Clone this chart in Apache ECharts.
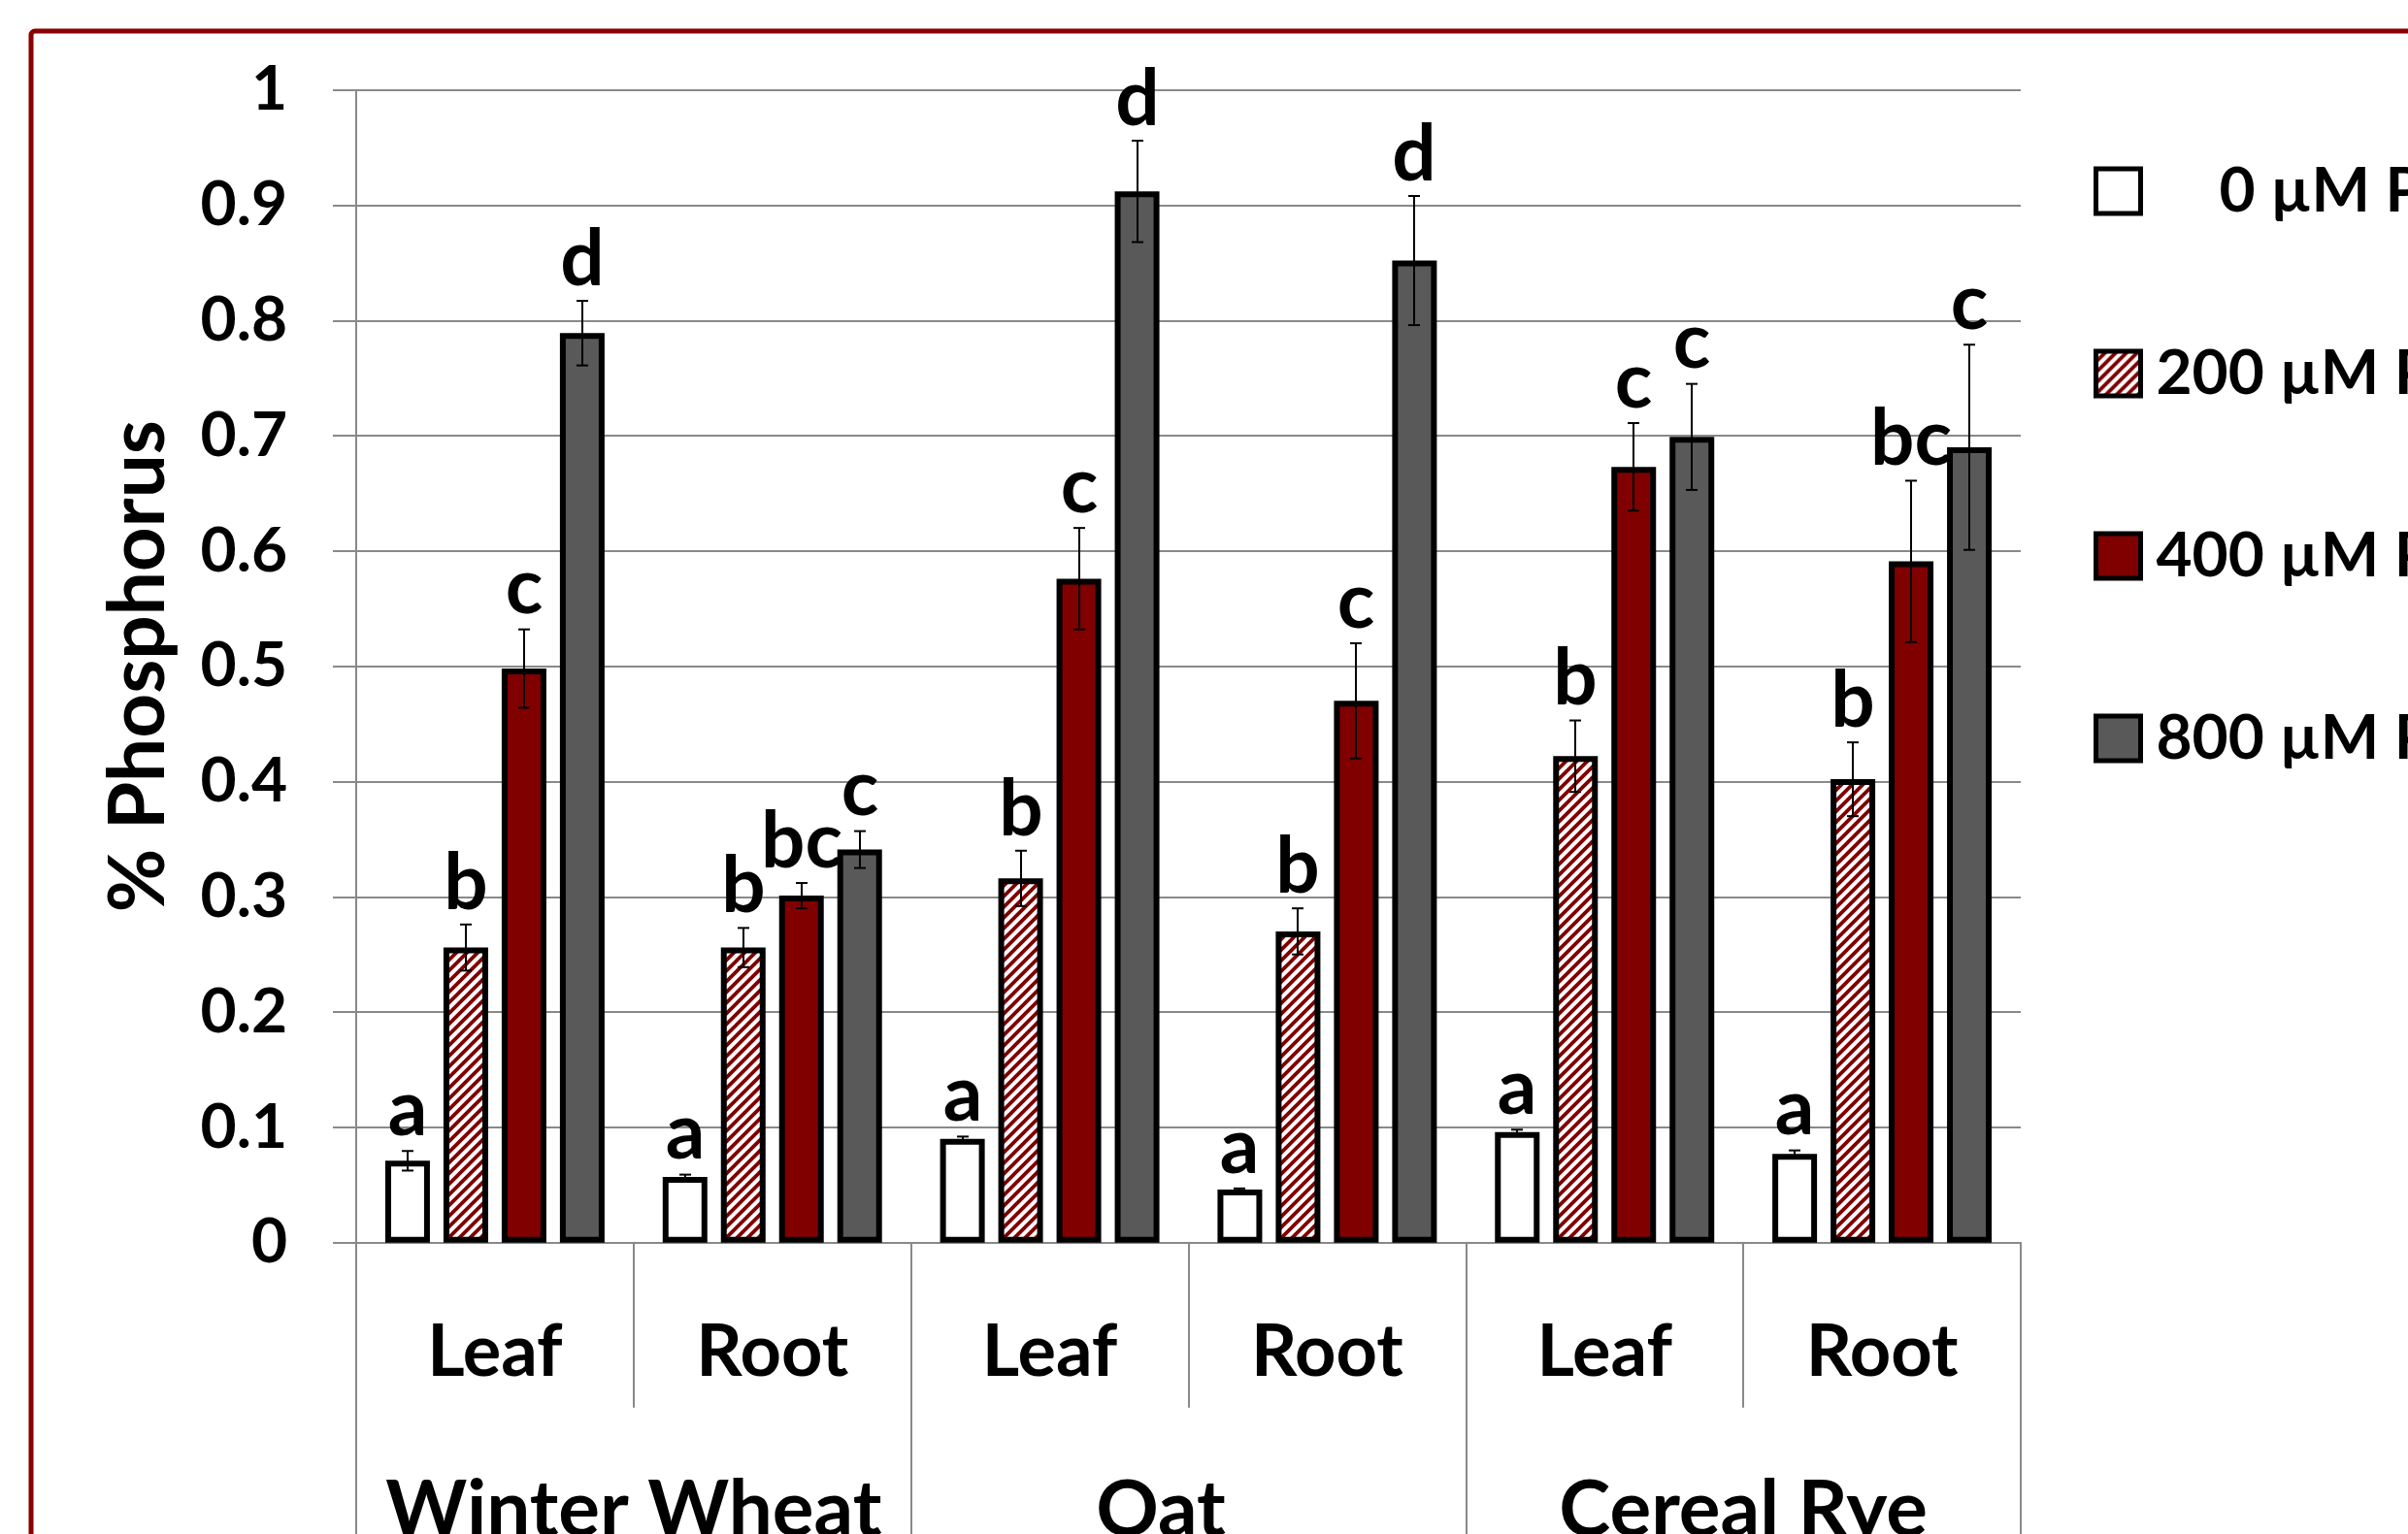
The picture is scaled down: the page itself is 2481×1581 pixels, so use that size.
<!DOCTYPE html>
<html>
<head>
<meta charset="utf-8">
<script src="https://cdn.jsdelivr.net/npm/echarts@6/dist/echarts.min.js"></script>
<style>
  html, body { margin: 0; padding: 0; background: #fff; }
  #chart { width: 2481px; height: 1581px; }
</style>
</head>
<body>
<div id="chart"></div>
<script>
// ---------------- data ----------------
const species = ['Winter Wheat', 'Oat', 'Cereal Rye'];
const tissues = ['Leaf', 'Root', 'Leaf', 'Root', 'Leaf', 'Root'];
const seriesNames = ['0 µM P', '200 µM P', '400 µM P', '800 µM P'];
const yTicks = [0, 0.1, 0.2, 0.3, 0.4, 0.5, 0.6, 0.7, 0.8, 0.9, 1];

const p0   = [0.071, 0.057, 0.090, 0.046, 0.096, 0.077];
const p200 = [0.256, 0.256, 0.316, 0.270, 0.422, 0.402];
const p400 = [0.498, 0.301, 0.576, 0.470, 0.673, 0.591];
const p800 = [0.789, 0.341, 0.912, 0.852, 0.699, 0.690];

const e0   = [0.0085, 0.002, 0.002, 0.001, 0.002, 0.003];
const e200 = [0.020, 0.017, 0.024, 0.020, 0.031, 0.032];
const e400 = [0.034, 0.011, 0.044, 0.050, 0.038, 0.070];
const e800 = [0.028, 0.016, 0.044, 0.056, 0.046, 0.089];

const l0   = ['a', 'a', 'a', 'a', 'a', 'a'];
const l200 = ['b', 'b', 'b', 'b', 'b', 'b'];
const l400 = ['c', 'bc', 'c', 'c', 'c', 'bc'];
const l800 = ['d', 'c', 'd', 'd', 'c', 'c'];

const means = [p0, p200, p400, p800];
const errs = [e0, e200, e400, e800];
const letters = [l0, l200, l400, l800];

// ---------------- style ----------------
const FONT = 'Lato';
const RED = '#800000';
const GRAY = '#595959';
const GRID = '#898989';
const BAR_W = 46;
const BAR_SPACE = 14;

function makeHatch() {
  const s = 11;
  const c = document.createElement('canvas');
  c.width = s; c.height = s;
  const g = c.getContext('2d');
  g.fillStyle = '#ffffff';
  g.fillRect(0, 0, s, s);
  g.strokeStyle = RED;
  g.lineWidth = 3.8;
  g.beginPath();
  for (let k = -1; k <= 1; k++) {
    g.moveTo(k * s - 2, s + 2);
    g.lineTo(k * s + s + 2, -2);
  }
  g.stroke();
  return c;
}
const hatch = { image: makeHatch(), repeat: 'repeat' };
const fills = ['#ffffff', hatch, RED, GRAY];

const chart = echarts.init(document.getElementById('chart'), null, { renderer: 'canvas' });

const barSeries = seriesNames.map((name, i) => ({
  name,
  type: 'bar',
  xAxisIndex: 0,
  yAxisIndex: 0,
  data: means[i],
  barWidth: BAR_W,
  barGap: (BAR_SPACE / BAR_W * 100).toFixed(1) + '%',
  itemStyle: { color: fills[i], borderColor: '#000', borderWidth: 6 },
  emphasis: { disabled: true },
  animation: false,
  z: 2
}));

const errData = [];
means.forEach((arr, si) => arr.forEach((v, ci) => errData.push([ci, v, errs[si][ci], si])));

const errSeries = {
  type: 'custom',
  xAxisIndex: 0,
  yAxisIndex: 0,
  data: errData,
  encode: { x: 0, y: 1 },
  z: 5,
  animation: false,
  silent: true,
  renderItem(params, api) {
    const ci = api.value(0), v = api.value(1), e = api.value(2), si = api.value(3);
    const off = (si - 1.5) * (BAR_W + BAR_SPACE);
    const x = Math.round(api.coord([ci, 0])[0] + off);
    const yHi = api.coord([ci, v + e])[1];
    const yLo = api.coord([ci, v - e])[1];
    const ls = { stroke: '#000', lineWidth: 2 };
    return {
      type: 'group',
      children: [
        { type: 'line', shape: { x1: x, y1: yHi, x2: x, y2: yLo }, style: ls },
        { type: 'line', shape: { x1: x - 6, y1: yHi, x2: x + 6, y2: yHi }, style: ls },
        { type: 'line', shape: { x1: x - 6, y1: yLo, x2: x + 6, y2: yLo }, style: ls },
        {
          type: 'text',
          x: x, y: yHi - 2,
          style: {
            text: letters[si][ci],
            font: 'bold 80px ' + FONT,
            fill: '#000',
            align: 'center',
            verticalAlign: 'bottom'
          }
        }
      ]
    };
  }
};

const option = {
  backgroundColor: '#ffffff',
  animation: false,
  graphic: [{
    type: 'rect',
    shape: { x: 32, y: 32, width: 3000, height: 3000, r: 4 },
    style: { fill: 'none', stroke: '#8B0000', lineWidth: 5 },
    silent: true,
    z: 0
  }],
  grid: { left: 367, right: 399, top: 92.7, bottom: 300.3, containLabel: false, outerBoundsMode: 'none' },
  legend: {
    orient: 'vertical',
    left: 2152,
    top: 159,
    itemWidth: 46,
    itemHeight: 46,
    itemGap: 122,
    icon: 'rect',
    selectedMode: false,
    itemStyle: { borderColor: '#000', borderWidth: 5 },
    textStyle: { fontFamily: FONT, fontWeight: 'bold', fontSize: 64, lineHeight: 66, color: '#000', padding: [0, 0, 0, 11] },
    data: [
      { name: seriesNames[0], textStyle: { padding: [0, 0, 0, 76] } },
      { name: seriesNames[1] },
      { name: seriesNames[2] },
      { name: seriesNames[3] }
    ]
  },
  xAxis: [{
    type: 'category',
    data: tissues,
    position: 'bottom',
    offset: 0,
    axisLine: { show: true, lineStyle: { color: GRID, width: 2 } },
    axisTick: { show: true, interval: 0, alignWithLabel: false, length: 170, lineStyle: { color: GRID, width: 2 } },
    axisLabel: { interval: 0, margin: 76, color: '#000', fontFamily: FONT, fontWeight: 'bold', fontSize: 74 },
    splitLine: { show: false }
  }, {
    type: 'category',
    data: species,
    position: 'bottom',
    offset: 0,
    axisLine: { show: false },
    axisTick: { show: true, interval: 0, alignWithLabel: false, length: 320, lineStyle: { color: GRID, width: 2 } },
    axisLabel: {
      interval: 0, margin: 237, color: '#000', fontFamily: FONT, fontWeight: 'bold', fontSize: 80,
      formatter: v => v === 'Oat' ? '{o|Oat}' : v,
      rich: { o: { fontFamily: FONT, fontWeight: 'bold', fontSize: 80, color: '#000', padding: [0, 57, 0, 0] } }
    },
    splitLine: { show: false }
  }],
  yAxis: {
    type: 'value',
    min: 0,
    max: 1,
    interval: 0.1,
    name: '% Phosphorus',
    nameLocation: 'middle',
    nameGap: 184,
    nameRotate: 90,
    nameTextStyle: { color: '#000', fontFamily: FONT, fontWeight: 'bold', fontSize: 80 },
    axisLine: { show: true, lineStyle: { color: GRID, width: 2 } },
    axisTick: { show: true, length: 24, lineStyle: { color: GRID, width: 2 } },
    axisLabel: {
      margin: 71, color: '#000', fontFamily: FONT, fontWeight: 'bold', fontSize: 64,
      formatter: v => String(yTicks.find(t => Math.abs(t - v) < 1e-9) ?? v)
    },
    splitLine: { show: true, lineStyle: { color: GRID, width: 2 } }
  },
  series: [...barSeries, errSeries]
};

chart.setOption(option);
</script>
</body>
</html>
